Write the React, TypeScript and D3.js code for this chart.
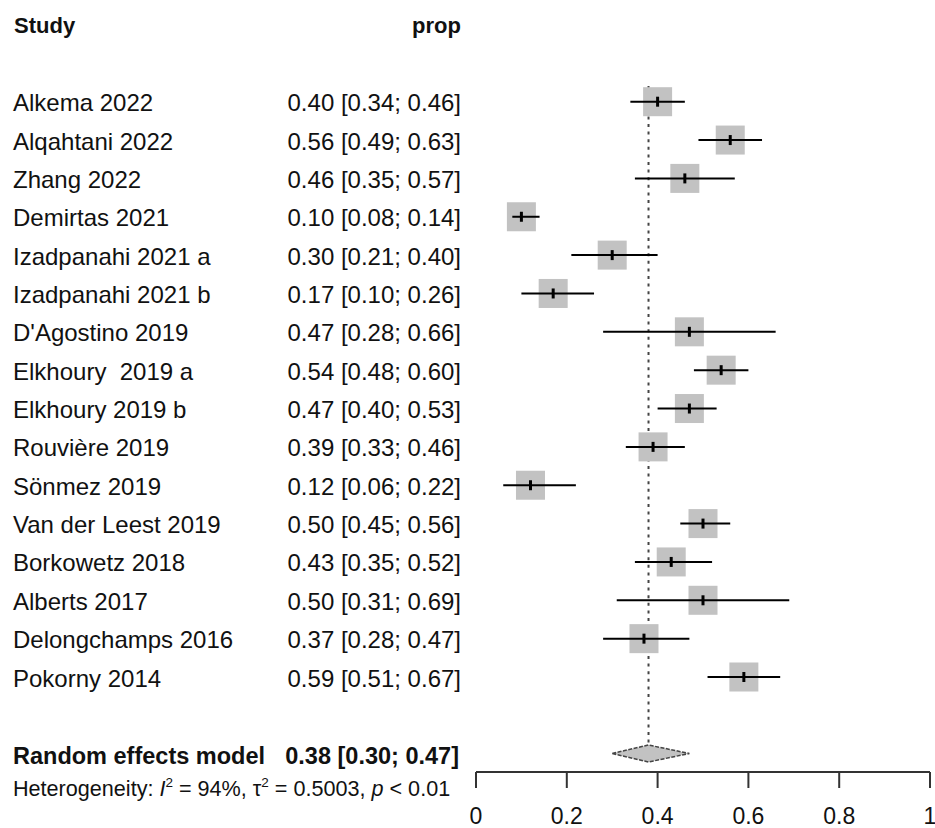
import React from 'react';
import * as d3 from 'd3';

// study rows
const studies = [
  'Alkema 2022', 'Alqahtani 2022', 'Zhang 2022', 'Demirtas 2021',
  'Izadpanahi 2021 a', 'Izadpanahi 2021 b', "D'Agostino 2019", 'Elkhoury  2019 a',
  'Elkhoury 2019 b', 'Rouvière 2019', 'Sönmez 2019', 'Van der Leest 2019',
  'Borkowetz 2018', 'Alberts 2017', 'Delongchamps 2016', 'Pokorny 2014',
];
const est = [0.40, 0.56, 0.46, 0.10, 0.30, 0.17, 0.47, 0.54, 0.47, 0.39, 0.12, 0.50, 0.43, 0.50, 0.37, 0.59];
const lower = [0.34, 0.49, 0.35, 0.08, 0.21, 0.10, 0.28, 0.48, 0.40, 0.33, 0.06, 0.45, 0.35, 0.31, 0.28, 0.51];
const upper = [0.46, 0.63, 0.57, 0.14, 0.40, 0.26, 0.66, 0.60, 0.53, 0.46, 0.22, 0.56, 0.52, 0.69, 0.47, 0.67];

// pooled estimate
const pooled = [0.38, 0.30, 0.47];
const axisTicks = [0, 0.2, 0.4, 0.6, 0.8, 1];

const W = 935;
const H = 828;
const FONT = 'Liberation Sans, Arial, sans-serif';

const fmt = (v: number) => v.toFixed(2);

export default function App() {
  const x = d3.scaleLinear().domain([0, 1]).range([476, 930]);
  const y = d3.scaleLinear().domain([0, studies.length - 1]).range([101.7, 677]);

  const box = 29;
  const diamondY = 753.5;
  const axisY = 772;

  const diamond = d3.line()([
    [x(pooled[1]), diamondY],
    [x(pooled[0]), diamondY - 8.5],
    [x(pooled[2]), diamondY],
    [x(pooled[0]), diamondY + 8.5],
  ]) + 'Z';

  return (
    <svg width={W} height={H} style={{ position: 'absolute', left: 0, top: 0, background: '#fff' }}
      fontFamily={FONT}>
      {/* header */}
      <text x={14} y={33} fontSize={22} fontWeight="bold" fill="#111">Study</text>
      <text x={461} y={33} fontSize={22} fontWeight="bold" fill="#111" textAnchor="end">prop</text>

      {/* reference line */}
      <line x1={x(pooled[0])} x2={x(pooled[0])} y1={86} y2={diamondY - 8.5}
        stroke="#444" strokeWidth={2} strokeDasharray="3,4.6" />

      {studies.map((s, i) => (
        <g key={s}>
          <text x={13} y={y(i) + 9.5} fontSize={24} fill="#111" style={{ whiteSpace: 'pre' }}>{s}</text>
          <text x={461} y={y(i) + 9.5} fontSize={24} fill="#111" textAnchor="end">
            {`${fmt(est[i])} [${fmt(lower[i])}; ${fmt(upper[i])}]`}
          </text>
          <rect x={x(est[i]) - box / 2} y={y(i) - box / 2} width={box} height={box} fill="#c2c2c2" />
          <line x1={x(lower[i])} x2={x(upper[i])} y1={y(i)} y2={y(i)} stroke="#000" strokeWidth={2} />
          <line x1={x(est[i])} x2={x(est[i])} y1={y(i) - 5} y2={y(i) + 5} stroke="#000" strokeWidth={3} />
        </g>
      ))}

      {/* pooled row */}
      <text x={13} y={764} fontSize={23.5} fontWeight="bold" fill="#111">Random effects model</text>
      <text x={459} y={764} fontSize={23.5} fontWeight="bold" fill="#111" textAnchor="end">
        {`${fmt(pooled[0])} [${fmt(pooled[1])}; ${fmt(pooled[2])}]`}
      </text>
      <path d={diamond} fill="#c2c2c2" stroke="#444" strokeWidth={1.5} strokeDasharray="4,1.5" />

      <text x={13} y={796} fontSize={21.6} fill="#111">
        Heterogeneity: <tspan fontStyle="italic">I</tspan>
        <tspan fontSize={13.5} dy={-9}>2</tspan>
        <tspan dy={9}> = 94%, τ</tspan>
        <tspan fontSize={13.5} dy={-9}>2</tspan>
        <tspan dy={9}> = 0.5003, </tspan>
        <tspan fontStyle="italic">p</tspan>
        <tspan> &lt; 0.01</tspan>
      </text>

      {/* axis */}
      <line x1={x(0)} x2={x(1)} y1={axisY} y2={axisY} stroke="#333" strokeWidth={2} />
      {axisTicks.map(t => (
        <g key={t}>
          <line x1={x(t)} x2={x(t)} y1={axisY} y2={axisY + 16} stroke="#333" strokeWidth={2} />
          <text x={x(t)} y={824} fontSize={23} fill="#111" textAnchor="middle">{String(t)}</text>
        </g>
      ))}
    </svg>
  );
}
